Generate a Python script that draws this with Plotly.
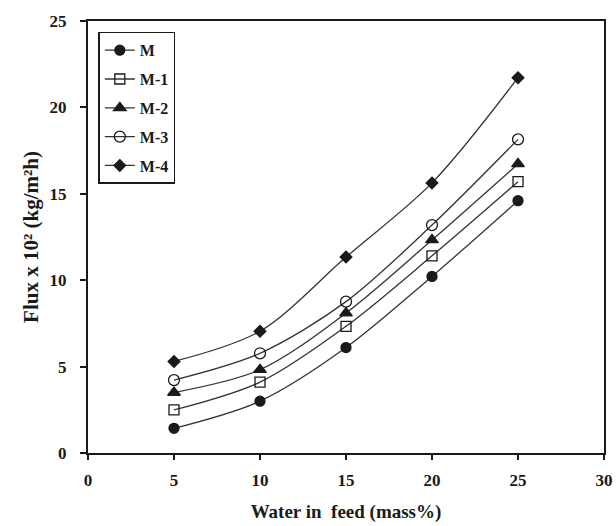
import plotly.graph_objects as go

# Water content in the feed (mass%)
water = [5, 10, 15, 20, 25]

# Permeation flux (x10^2 kg/m2h) for each membrane
flux_M = [1.43, 3.0, 6.1, 10.22, 14.6]
flux_M1 = [2.49, 4.1, 7.33, 11.41, 15.7]
flux_M2 = [3.5, 4.82, 8.1, 12.33, 16.73]
flux_M3 = [4.22, 5.77, 8.76, 13.19, 18.15]
flux_M4 = [5.3, 7.05, 11.34, 15.63, 21.72]

series = [
    ("M", flux_M, "circle", 10),
    ("M-1", flux_M1, "square-open", 10),
    ("M-2", flux_M2, "triangle-up", 11),
    ("M-3", flux_M3, "circle-open", 11),
    ("M-4", flux_M4, "diamond", 9),
]

font_family = "Liberation Serif, Times New Roman, serif"
ink = "#1a1a1a"

fig = go.Figure()
for i, (name, vals, symbol, size) in enumerate(series):
    fig.add_trace(go.Scatter(
        x=water, y=vals, name=name, mode="lines+markers",
        legendgroup=f"g{i}",
        line=dict(color="#333333", width=1.3, shape="spline", smoothing=0.9),
        marker=dict(symbol=symbol, size=size, color=ink,
                    line=dict(color=ink, width=1.3)),
    ))

fig.update_layout(
    width=616, height=526,
    margin=dict(l=88, r=10, t=21, b=73),
    paper_bgcolor="white", plot_bgcolor="white",
    font=dict(family=font_family, color=ink),
    showlegend=True,
    legend=dict(
        x=0.02, y=0.975, xanchor="left", yanchor="top",
        bordercolor=ink, borderwidth=1.5, bgcolor="white",
        font=dict(family=font_family, size=16, color=ink, weight="bold"),
        traceorder="grouped", tracegroupgap=5,
        itemwidth=30,
    ),
    xaxis=dict(
        range=[0, 30], tickvals=[0, 5, 10, 15, 20, 25, 30],
        showgrid=False, zeroline=False, automargin=False,
        showline=True, linecolor=ink, linewidth=2, mirror=True,
        ticks="outside", ticklen=5, tickcolor=ink, tickwidth=1.5,
        ticklabelstandoff=6,
        tickfont=dict(family=font_family, size=17, color=ink, weight="bold"),
        title=dict(text="Water in  feed (mass%)",
                   font=dict(family=font_family, size=19, color=ink, weight="bold")),
    ),
    yaxis=dict(
        range=[0, 25], tickvals=[0, 5, 10, 15, 20, 25],
        showgrid=False, zeroline=False, automargin=True,
        showline=True, linecolor=ink, linewidth=2, mirror=True,
        ticks="outside", ticklen=6, tickcolor=ink, tickwidth=1.5,
        ticklabelstandoff=10,
        tickfont=dict(family=font_family, size=17, color=ink, weight="bold"),
        title=dict(text="Flux x 10² (kg/m²h)", standoff=5,
                   font=dict(family=font_family, size=21, color=ink, weight="bold")),
    ),
)

fig.write_html("out.html")
